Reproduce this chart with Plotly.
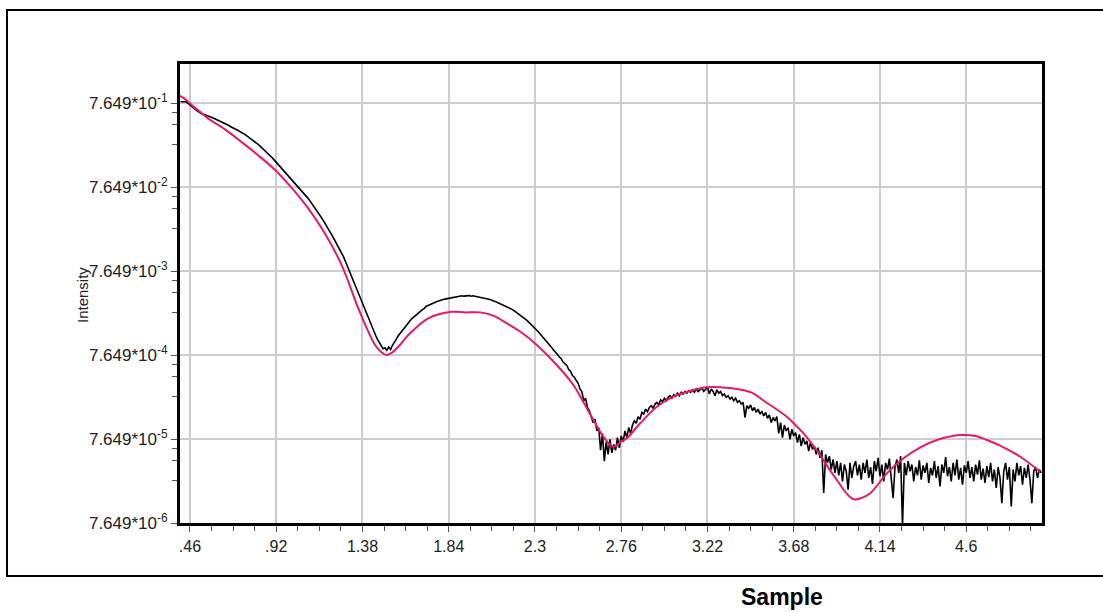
import math
import plotly.graph_objects as go

# ---------------- data ----------------
# measured intensity, sampled every 0.01 starting at q = 0.41, stored as log10(intensity)
q_start = 0.41
q_step = 0.01
measured_log10 = [
    -0.10, -0.10, -0.10, -0.10, -0.12, -0.14, -0.15, -0.17, -0.19, -0.21,
    -0.225, -0.24, -0.25, -0.255, -0.262, -0.27, -0.28, -0.29, -0.30, -0.31,
    -0.32, -0.33, -0.34, -0.355, -0.365, -0.375, -0.385, -0.40, -0.41, -0.42,
    -0.435, -0.445, -0.46, -0.47, -0.485, -0.50, -0.515, -0.53, -0.55, -0.565,
    -0.585, -0.60, -0.62, -0.64, -0.66, -0.68, -0.70, -0.725, -0.745, -0.77,
    -0.795, -0.82, -0.84, -0.865, -0.89, -0.915, -0.94, -0.965, -0.99, -1.015,
    -1.04, -1.065, -1.09, -1.115, -1.14, -1.165, -1.19, -1.22, -1.25, -1.28,
    -1.31, -1.34, -1.37, -1.405, -1.44, -1.475, -1.51, -1.545, -1.58, -1.62,
    -1.66, -1.70, -1.74, -1.78, -1.82, -1.86, -1.90, -1.95, -2.005, -2.06,
    -2.115, -2.17, -2.225, -2.285, -2.345, -2.405, -2.46, -2.515, -2.57, -2.625,
    -2.68, -2.73, -2.78, -2.83, -2.88, -2.93, -2.97, -3.01, -3.04, -3.03,
    -3.06, -3.02, -3.05, -3.00, -2.97, -2.93, -2.89, -2.86, -2.83, -2.80,
    -2.77, -2.74, -2.715, -2.69, -2.67, -2.65, -2.625, -2.61, -2.595, -2.575,
    -2.56, -2.535, -2.525, -2.515, -2.50, -2.495, -2.485, -2.475, -2.47, -2.46,
    -2.455, -2.45, -2.445, -2.44, -2.435, -2.43, -2.425, -2.42, -2.418, -2.415,
    -2.41, -2.415, -2.41, -2.412, -2.408, -2.415, -2.41, -2.415, -2.42, -2.42,
    -2.425, -2.43, -2.435, -2.44, -2.45, -2.455, -2.465, -2.47, -2.48, -2.49,
    -2.50, -2.51, -2.52, -2.53, -2.54, -2.55, -2.565, -2.575, -2.59, -2.605,
    -2.62, -2.635, -2.65, -2.67, -2.69, -2.71, -2.73, -2.75, -2.775, -2.795,
    -2.82, -2.845, -2.87, -2.895, -2.92, -2.95, -2.975, -3.00, -3.03, -3.06,
    -3.08, -3.11, -3.14, -3.16, -3.20, -3.22, -3.24, -3.29, -3.31, -3.36,
    -3.38, -3.42, -3.45, -3.52, -3.55, -3.66, -3.63, -3.74, -3.78, -3.85,
    -3.92, -3.88, -4.02, -3.98, -4.25, -4.05, -4.38, -4.15, -4.30, -4.12,
    -4.28, -4.18, -4.25, -4.10, -4.22, -4.08, -4.15, -4.02, -4.10, -3.98,
    -4.05, -3.95, -3.90, -3.93, -3.85, -3.88, -3.80, -3.82, -3.76, -3.79,
    -3.74, -3.72, -3.75, -3.70, -3.68, -3.71, -3.65, -3.67, -3.63, -3.66,
    -3.62, -3.60, -3.63, -3.59, -3.61, -3.57, -3.60, -3.56, -3.58, -3.55,
    -3.57, -3.54, -3.56, -3.53, -3.56, -3.52, -3.55, -3.53, -3.51, -3.55,
    -3.52, -3.50, -3.58, -3.52, -3.55, -3.60, -3.53, -3.57, -3.55, -3.60,
    -3.58, -3.62, -3.60, -3.64, -3.62, -3.66, -3.63, -3.68, -3.66, -3.70,
    -3.68, -3.86, -3.72, -3.75, -3.71, -3.78, -3.74, -3.80, -3.76, -3.82,
    -3.79, -3.84, -3.80, -3.87, -3.83, -3.92, -3.86, -3.90, -3.85, -4.05,
    -3.92, -4.10, -3.95, -4.02, -3.98, -4.12, -4.00, -4.08, -4.04, -4.16,
    -4.06, -4.20, -4.10, -4.18, -4.14, -4.26, -4.15, -4.24, -4.20, -4.30,
    -4.22, -4.34, -4.25, -4.76, -4.30, -4.40, -4.32, -4.48, -4.36, -4.52,
    -4.38, -4.55, -4.40, -4.62, -4.42, -4.50, -4.72, -4.40, -4.58, -4.44,
    -4.38, -4.55, -4.42, -4.60, -4.40, -4.52, -4.36, -4.58, -4.45, -4.65,
    -4.38, -4.50, -4.34, -4.56, -4.42, -4.62, -4.40, -4.48, -4.35, -4.55,
    -4.82, -4.45, -4.36, -4.52, -4.32, -5.15, -4.40, -4.55, -4.38, -4.50,
    -4.42, -4.62, -4.45, -4.55, -4.37, -4.60, -4.43, -4.52, -4.40, -4.64,
    -4.46, -4.55, -4.38, -4.58, -4.44, -4.68, -4.42, -4.52, -4.33, -4.56,
    -4.45, -4.62, -4.40, -4.55, -4.36, -4.60, -4.46, -4.66, -4.43, -4.52,
    -4.38, -4.58, -4.45, -4.62, -4.42, -4.54, -4.37, -4.60, -4.47, -4.64,
    -4.44, -4.57, -4.40, -4.62, -4.48, -4.70, -4.45, -4.58, -4.88, -4.50,
    -4.40, -4.60, -4.45, -4.92, -4.48, -4.62, -4.40, -4.55, -4.44, -4.66,
    -4.46, -4.58, -4.42, -4.60, -4.88, -4.50, -4.45, -4.58, -4.48, -4.52,
]

# fitted (simulated) curve
fit_q = [0.407, 0.43, 0.45, 0.48, 0.52, 0.558, 0.65, 0.736, 0.82, 0.913,
         1.00, 1.091, 1.18, 1.269, 1.358, 1.40, 1.447, 1.48, 1.508, 1.535,
         1.57, 1.625, 1.731, 1.856, 1.93, 2.007, 2.08, 2.15, 2.23, 2.31,
         2.416, 2.505, 2.558, 2.612, 2.665, 2.718, 2.76, 2.79, 2.861, 2.95,
         3.038, 3.145, 3.217, 3.288, 3.40, 3.464, 3.52, 3.643, 3.698, 3.732,
         3.821, 3.874, 3.91, 3.96, 3.999, 4.04, 4.088, 4.177, 4.266, 4.355,
         4.444, 4.568, 4.65, 4.71, 4.799, 4.888, 4.995]
fit_log10 = [-0.03, -0.06, -0.10, -0.16, -0.23, -0.30, -0.435, -0.58, -0.73, -0.91,
             -1.12, -1.37, -1.67, -2.045, -2.561, -2.78, -2.997, -3.08, -3.116, -3.09,
             -3.02, -2.878, -2.679, -2.601, -2.608, -2.608, -2.65, -2.739, -2.85, -2.997,
             -3.235, -3.473, -3.676, -3.89, -4.089, -4.208, -4.148, -4.108, -3.929, -3.732,
             -3.612, -3.533, -3.501, -3.501, -3.53, -3.572, -3.66, -3.851, -3.97, -4.048,
             -4.307, -4.49, -4.604, -4.76, -4.834, -4.82, -4.763, -4.525, -4.346, -4.215,
             -4.128, -4.069, -4.08, -4.128, -4.215, -4.327, -4.506]

x_tick_vals = [0.46, 0.92, 1.38, 1.84, 2.3, 2.76, 3.22, 3.68, 4.14, 4.6]
x_tick_text = [".46", ".92", "1.38", "1.84", "2.3", "2.76", "3.22", "3.68", "4.14", "4.6"]
y_tick_vals = [7.649e-1, 7.649e-2, 7.649e-3, 7.649e-4, 7.649e-5, 7.649e-6]
y_tick_text = ["7.649*10<sup>-1</sup>", "7.649*10<sup>-2</sup>", "7.649*10<sup>-3</sup>",
               "7.649*10<sup>-4</sup>", "7.649*10<sup>-5</sup>", "7.649*10<sup>-6</sup>"]

# ---------------- layout geometry ----------------
W, H = 1103, 612
ML, MR, MT, MB = 180, 61, 64, 89
PW, PH = W - ML - MR, H - MT - MB


def px_x(p):
    return (p - ML) / PW


def px_y(p):
    return (H - MB - p) / PH


FONT = "Liberation Sans, Arial, sans-serif"
TXT = "#222222"

fig = go.Figure()
fig.add_trace(go.Scatter(
    x0=q_start, dx=q_step, y=[10 ** v for v in measured_log10],
    mode="lines", line=dict(color="#000000", width=1.6), showlegend=False,
))
fig.add_trace(go.Scatter(
    x=fit_q, y=[10 ** v for v in fit_log10],
    mode="lines", line=dict(color="#E8186E", width=2, shape="spline", smoothing=1.0),
    showlegend=False,
))

minor_y = []
for v in y_tick_vals:
    for d in (0.11, 0.25, 0.49):
        minor_y.append(v * 10 ** (-d))

fig.update_layout(
    width=W, height=H,
    margin=dict(l=ML, r=MR, t=MT, b=MB, pad=0),
    paper_bgcolor="white", plot_bgcolor="white",
    font=dict(family=FONT, size=16, color=TXT),
    xaxis=dict(
        range=[0.407, 5.004], tickmode="array", tickvals=x_tick_vals, ticktext=x_tick_text,
        showgrid=True, gridcolor="#cdcdcd", gridwidth=1.5, zeroline=False,
        showline=True, linecolor="#000000", linewidth=3, mirror=True,
        ticks="outside", ticklen=6, tickcolor="#555555", tickwidth=1,
        ticklabelstandoff=1,
        tickfont=dict(family=FONT, size=16, color=TXT),
        minor=dict(tick0=0.46, dtick=0.115, ticks="outside", ticklen=5,
                   tickcolor="#555555", tickwidth=1, showgrid=False),
    ),
    yaxis=dict(
        type="log", range=[math.log10(7.649e-6), 0.35],
        tickmode="array", tickvals=y_tick_vals, ticktext=y_tick_text,
        showgrid=True, gridcolor="#cdcdcd", gridwidth=1.5, zeroline=False,
        showline=True, linecolor="#000000", linewidth=3, mirror=True,
        ticks="outside", ticklen=6, tickcolor="#555555", tickwidth=1,
        ticklabelstandoff=0,
        tickfont=dict(family=FONT, size=17, color=TXT),
        minor=dict(tickmode="array", tickvals=minor_y, ticks="outside", ticklen=5,
                   tickcolor="#555555", tickwidth=1, showgrid=False),
    ),
    shapes=[dict(
        type="rect", xref="paper", yref="paper",
        x0=px_x(7), x1=px_x(1115), y0=px_y(576), y1=px_y(10),
        line=dict(color="#000000", width=2), fillcolor="rgba(0,0,0,0)", layer="below",
    )],
    annotations=[
        dict(text="Intensity", xref="paper", yref="paper", x=px_x(82), y=px_y(295),
             textangle=-90, showarrow=False, xanchor="center", yanchor="middle",
             font=dict(family=FONT, size=15, color=TXT)),
        dict(text="<b>Sample</b>", xref="paper", yref="paper", x=px_x(782), y=px_y(597),
             showarrow=False, xanchor="center", yanchor="middle",
             font=dict(family=FONT, size=23, color="#000000")),
    ],
)

fig.write_html("out.html")
